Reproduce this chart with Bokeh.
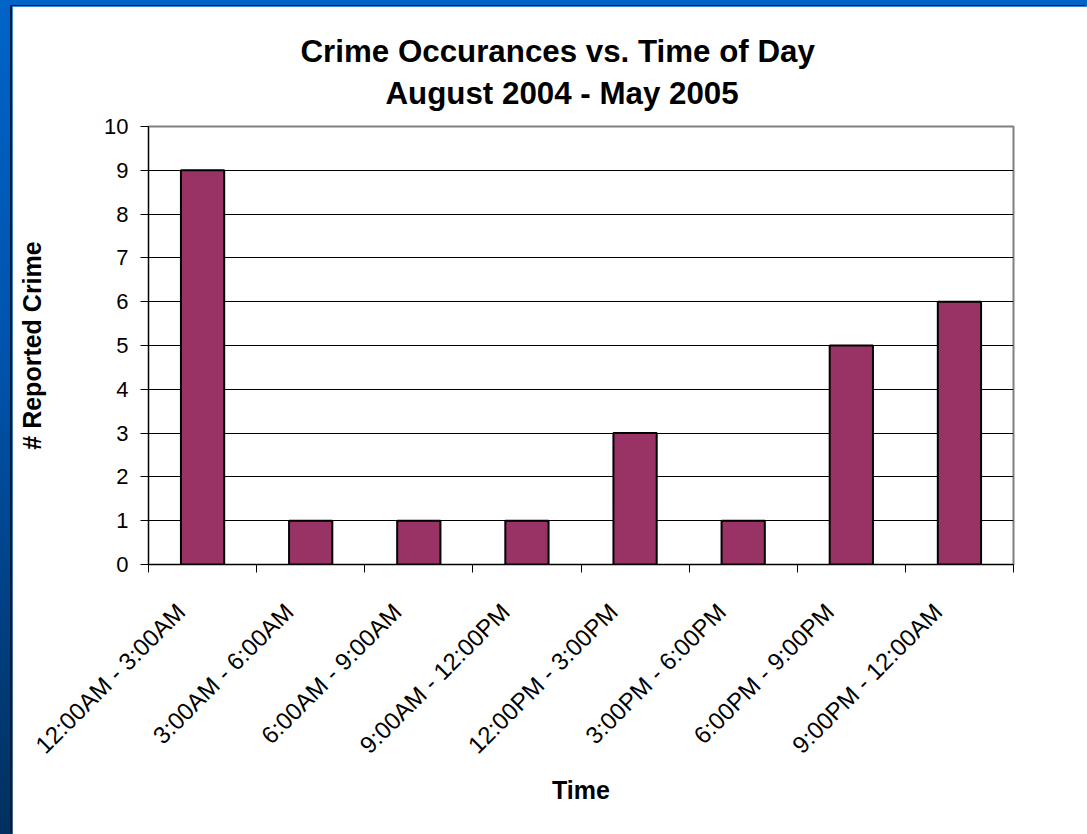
import math
from bokeh.plotting import figure
from bokeh.models import FixedTicker, Title, Range1d
from bokeh.layouts import column
from bokeh.embed import file_html
from bokeh.resources import INLINE

# ---- data ----
categories = ["12:00AM - 3:00AM", "3:00AM - 6:00AM", "6:00AM - 9:00AM", "9:00AM - 12:00PM",
              "12:00PM - 3:00PM", "3:00PM - 6:00PM", "6:00PM - 9:00PM", "9:00PM - 12:00AM"]
counts = [9, 1, 1, 1, 3, 1, 5, 6]
y_ticks = [0, 1, 2, 3, 4, 5, 6, 7, 8, 9, 10]
title_line1 = "Crime Occurances vs. Time of Day"
title_line2 = "August 2004 - May 2005"
x_label = "Time"
y_label = "# Reported Crime"

FONT = "Liberation Sans"
n = len(categories)
centers = [i + 0.5 for i in range(n)]
bounds = [i for i in range(n + 1)]
label_shift = -0.2   # rotated labels end slightly left of the category centre
label_pos = [c + label_shift for c in centers]

p = figure(width=1075, height=828, output_backend="svg", toolbar_location=None,
           x_range=Range1d(0, n), y_range=Range1d(y_ticks[0], y_ticks[-1]),
           min_border_left=136, min_border_right=74, min_border_top=120,
           min_border_bottom=270, background_fill_color="white",
           border_fill_color="white")

p.vbar(x=centers, top=counts, width=0.4, fill_color="#993366",
       line_color="black", line_width=2)

# titles (the outer one is p.title, the inner one is added below it)
p.title.text = title_line1
p.title.text_font = FONT
p.title.text_font_size = "31.3px"
p.title.text_font_style = "bold"
p.title.text_color = "black"
p.title.align = "left"
p.title.offset = 152
p.title.standoff = -22
t2 = Title(text=title_line2, text_font=FONT, text_font_size="31.3px",
           text_font_style="bold", text_color="black", align="left",
           offset=237, standoff=32)
p.add_layout(t2, "above")

# outline / grid
p.outline_line_color = "#808080"
p.outline_line_width = 2
p.xgrid.visible = False
p.ygrid.ticker = FixedTicker(ticks=y_ticks)
p.ygrid.grid_line_color = "black"
p.ygrid.grid_line_width = 1

# x axis
xa = p.xaxis[0]
xa.ticker = FixedTicker(ticks=label_pos, minor_ticks=bounds)
xa.major_label_overrides = {c: lab for c, lab in zip(label_pos, categories)}
xa.major_tick_in = 0
xa.major_tick_out = 0
xa.minor_tick_in = 0
xa.minor_tick_out = 8
xa.minor_tick_line_color = "black"
xa.axis_line_color = "black"
xa.major_label_orientation = math.pi / 4
xa.major_label_text_font = FONT
xa.major_label_text_font_size = "24px"
xa.major_label_text_color = "black"
xa.major_label_standoff = 35
xa.axis_label = x_label
xa.axis_label_text_font = FONT
xa.axis_label_text_font_size = "25px"
xa.axis_label_text_font_style = "bold"
xa.axis_label_text_color = "black"
xa.axis_label_standoff = 5

# y axis
ya = p.yaxis[0]
ya.ticker = FixedTicker(ticks=y_ticks)
ya.major_tick_in = 0
ya.major_tick_out = 8
ya.minor_tick_out = 0
ya.minor_tick_in = 0
ya.major_tick_line_color = "black"
ya.axis_line_color = "black"
ya.major_label_text_font = FONT
ya.major_label_text_font_size = "22px"
ya.major_label_text_color = "black"
ya.major_label_standoff = 12
ya.axis_label = y_label
ya.axis_label_text_font = FONT
ya.axis_label_text_font_size = "25px"
ya.axis_label_text_font_style = "bold"
ya.axis_label_text_color = "black"
ya.axis_label_standoff = 55

p.margin = (6, 0, 0, 12)
p.styles = {"box-shadow": "-2px -1px 0 0 #0b1d3a"}

layout = column(p, width=1087, height=834,
                styles={"background": "linear-gradient(180deg, #0064c8 0%, #0052aa 45%, #00305f 100%)"})

open("out.html", "w").write(file_html(layout, INLINE))
